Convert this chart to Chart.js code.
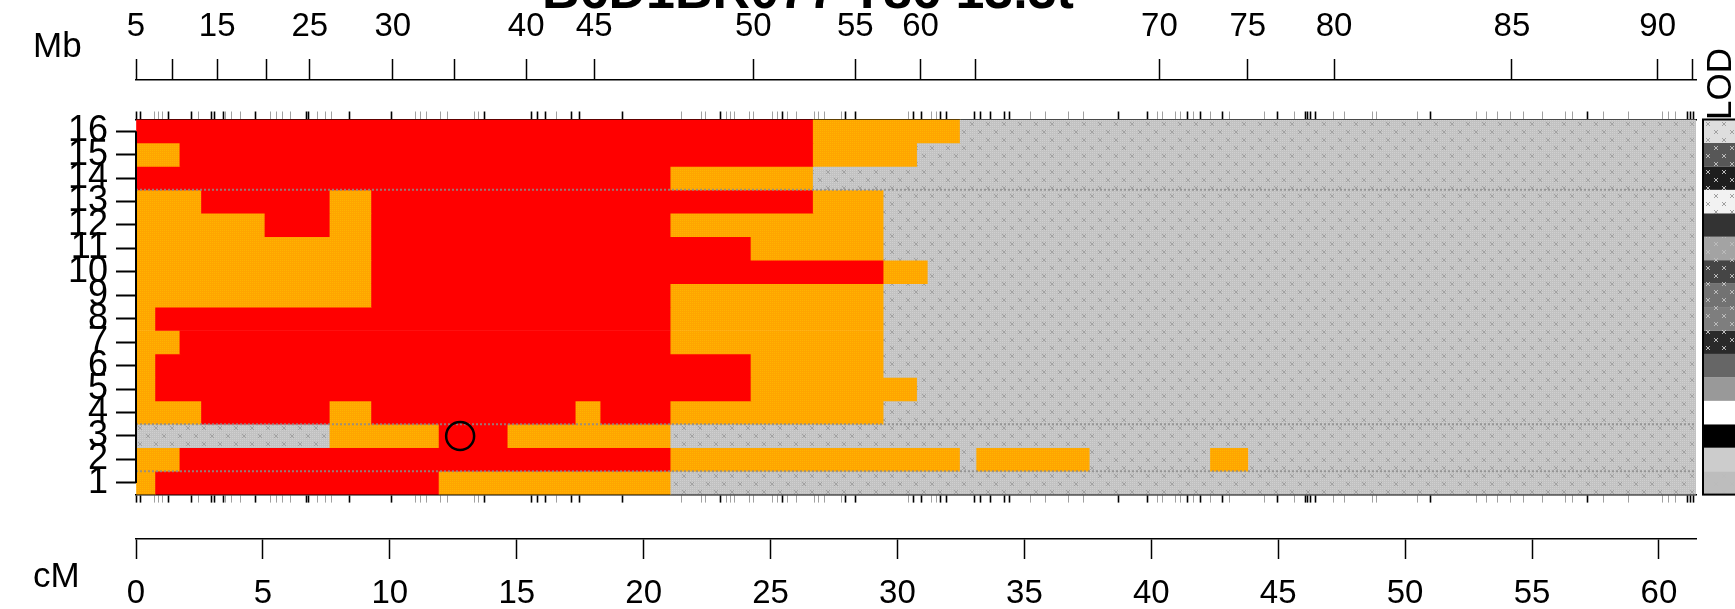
<!DOCTYPE html>
<html>
<head>
<meta charset="utf-8">
<script src="https://cdn.jsdelivr.net/npm/chart.js@4.4.1/dist/chart.umd.min.js"></script>
<style>
  html, body { margin: 0; padding: 0; background: #fff; }
  #wrap { width: 1735px; height: 609px; }
</style>
</head>
<body>
<div id="wrap"><canvas id="haplo" width="1735" height="609"></canvas></div>
<script>
// genetic map length (cM) and row ids
const XMAX = 61.46;
const rowNumbers = [1, 2, 3, 4, 5, 6, 7, 8, 9, 10, 11, 12, 13, 14, 15, 16];

// each row: [call, end cM]; a segment starts where the previous one ended
// R = red call, O = orange call, G = no call
const row1 = [['O', 0.77], ['R', 11.94], ['O', 21.07], ['G', XMAX]];
const row2 = [['O', 1.73], ['R', 21.07], ['O', 32.47], ['G', 33.12], ['O', 37.58], ['G', 42.33], ['O', 43.83], ['G', XMAX]];
const row3 = [['G', 7.64], ['O', 11.94], ['R', 14.65], ['O', 21.07], ['G', XMAX]];
const row4 = [['O', 2.58], ['R', 7.64], ['O', 9.28], ['R', 17.33], ['O', 18.31], ['R', 21.07], ['O', 29.46], ['G', XMAX]];
const row5 = [['O', 0.77], ['R', 24.23], ['O', 30.78], ['G', XMAX]];
const row6 = [['O', 0.77], ['R', 24.23], ['O', 29.46], ['G', XMAX]];
const row7 = [['O', 1.73], ['R', 21.07], ['O', 29.46], ['G', XMAX]];
const row8 = [['O', 0.77], ['R', 21.07], ['O', 29.46], ['G', XMAX]];
const row9 = [['O', 9.28], ['R', 21.07], ['O', 29.46], ['G', XMAX]];
const row10 = [['O', 9.28], ['R', 29.46], ['O', 31.2], ['G', XMAX]];
const row11 = [['O', 9.28], ['R', 24.23], ['O', 29.46], ['G', XMAX]];
const row12 = [['O', 5.08], ['R', 7.64], ['O', 9.28], ['R', 21.07], ['O', 29.46], ['G', XMAX]];
const row13 = [['O', 2.58], ['R', 7.64], ['O', 9.28], ['R', 26.68], ['O', 29.46], ['G', XMAX]];
const row14 = [['R', 21.07], ['O', 26.68], ['G', XMAX]];
const row15 = [['O', 1.73], ['R', 26.68], ['O', 30.78], ['G', XMAX]];
const row16 = [['R', 26.68], ['O', 32.47], ['G', XMAX]];
const allRows = [row1, row2, row3, row4, row5, row6, row7, row8, row9, row10, row11, row12, row13, row14, row15, row16];

// group separators (between rows) and the peak marker
const groupBreaks = [1.5, 3.5, 13.5];
const peakCm = 12.77;
const peakRow = 3;

// bottom axis (cM)
const cmTicks = [0, 5, 10, 15, 20, 25, 30, 35, 40, 45, 50, 55, 60];

// top axis: physical positions placed on the cM scale
const mbTickCm = [0, 1.42, 3.20, 5.15, 6.85, 10.12, 12.54, 15.37, 18.05, 24.32, 28.34, 30.91, 33.07, 40.32, 43.80, 47.20, 54.21, 59.95, 61.34];
const mbLabels = ['5', '', '15', '', '25', '30', '', '40', '45', '50', '55', '60', '', '70', '75', '80', '85', '90', ''];

// marker rug (cM): typed markers and the rest
const markersTyped = [0.02, 0.17, 1.30, 2.20, 2.99, 3.11, 3.43, 4.69, 6.70, 6.81, 8.43, 10.05, 13.72, 15.57, 15.81, 16.12, 17.14, 17.46, 19.15, 23.02, 25.46, 27.94, 28.33, 30.62, 30.94, 31.69, 31.92, 33.03, 33.26, 33.66, 34.21, 34.41, 38.70, 39.84, 41.42, 41.93, 42.80, 44.97, 46.08, 46.15, 46.27, 46.47, 51.00, 57.19, 61.13, 61.25, 61.37];
const markersOther = [0.74, 0.90, 1.06, 2.48, 3.54, 3.78, 4.10, 5.28, 5.52, 5.79, 6.07, 7.17, 7.45, 7.72, 11.00, 11.20, 11.43, 11.98, 12.26, 13.32, 13.48, 16.55, 21.48, 22.27, 22.42, 23.25, 23.41, 23.57, 24.16, 24.32, 25.07, 25.26, 25.66, 26.01, 26.72, 26.88, 27.11, 27.78, 30.43, 31.33, 31.53, 35.24, 35.83, 36.73, 37.32, 40.24, 40.44, 40.95, 41.15, 41.67, 42.33, 43.08, 44.46, 45.64, 47.18, 47.61, 48.71, 48.87, 50.49, 52.82, 53.21, 53.65, 54.16, 54.67, 55.42, 56.32, 56.60, 57.82, 58.81, 60.15, 60.38, 60.66];

// LOD strip shades, top row (16) to bottom row (1)
const lodShades = ['#dedede', '#575757', '#1e1e1e', '#f2f2f2', '#333333', '#a3a3a3', '#454545', '#727272', '#7e7e7e', '#2a2a2a', '#666666', '#999999', '#ffffff', '#000000', '#cccccc', '#bdbdbd'];
const lodHatched = [1, 1, 1, 1, 0, 1, 1, 1, 1, 1, 0, 0, 0, 0, 0, 1];

const FONT = "'Liberation Sans', Arial, sans-serif";

function stipple(base, dot, cross) {
  const c = document.createElement('canvas');
  c.width = 16; c.height = 16;
  const g = c.getContext('2d');
  g.fillStyle = base;
  g.fillRect(0, 0, 16, 16);
  g.fillStyle = dot;
  for (let y = 0; y < 16; y += 2) {
    for (let x = 0; x < 16; x += 2) g.fillRect(x, y, 1, 1);
  }
  if (cross) {
    g.strokeStyle = cross;
    g.lineWidth = 1;
    g.beginPath();
    [[2, 2], [10, 10]].forEach(([cx, cy]) => {
      g.moveTo(cx, cy); g.lineTo(cx + 4, cy + 4);
      g.moveTo(cx + 4, cy); g.lineTo(cx, cy + 4);
    });
    g.stroke();
  }
  return g.createPattern(c, 'repeat');
}

const fills = {
  R: '#ff0000',
  O: stipple('#ffa500', '#ffb400', null),
  G: stipple('#c2c2c2', '#d0d0d0', '#a2a2a2')
};

const segData = [];
const segColors = [];
allRows.forEach((segs, i) => {
  let start = 0;
  segs.forEach(([call, end]) => {
    segData.push({ y: rowNumbers[i], x: [start, end] });
    segColors.push(fills[call]);
    start = end;
  });
});

const rugTicks = markersOther.map(v => ({ value: v, typed: false }))
  .concat(markersTyped.map(v => ({ value: v, typed: true })));

const separatorSets = groupBreaks.map(b => ({
  type: 'line',
  data: [{ x: 0, y: b }, { x: XMAX, y: b }],
  borderColor: 'rgba(140,140,140,0.85)',
  borderWidth: 2,
  borderDash: [2, 2],
  pointRadius: 0,
  order: 1,
  xAxisID: 'x',
  yAxisID: 'y'
}));

// scales keep their boxes exactly; no extra room for label overhang
function noOverhang(s) {
  s.paddingTop = 0; s.paddingBottom = 0;
  s.paddingLeft = 0; s.paddingRight = 0;
}

const decor = {
  id: 'decor',
  afterDraw(chart) {
    const { ctx, chartArea, scales } = chart;
    const y = scales.y;
    ctx.save();

    // row axis line, first to last tick
    ctx.strokeStyle = '#000';
    ctx.lineWidth = 2;
    ctx.beginPath();
    ctx.moveTo(chartArea.left, y.getPixelForValue(16));
    ctx.lineTo(chartArea.left, y.getPixelForValue(1));
    ctx.stroke();

    // LOD strip
    const x0 = chartArea.right + 7;
    rowNumbers.forEach(r => {
      const k = 16 - r;
      const top = y.getPixelForValue(r + 0.5);
      const bot = y.getPixelForValue(r - 0.5);
      ctx.fillStyle = lodHatched[k] ? stipple(lodShades[k], lodShades[k], k === 0 || k === 3 ? '#a0a0a0' : '#bbbbbb') : lodShades[k];
      ctx.fillRect(x0, top, 60, bot - top);
    });
    ctx.strokeStyle = '#000';
    ctx.lineWidth = 2;
    ctx.strokeRect(x0, chartArea.top, 60, chartArea.bottom - chartArea.top);

    ctx.fillStyle = '#000';
    ctx.font = '35px ' + FONT;
    ctx.textBaseline = 'middle';
    ctx.textAlign = 'left';
    ctx.fillText('Mb', 33, 47);
    ctx.fillText('cM', 33, 577);

    ctx.save();
    ctx.translate(1721, 84);
    ctx.rotate(-Math.PI / 2);
    ctx.textAlign = 'center';
    ctx.fillText('LOD', 0, 0);
    ctx.restore();

    // title, mostly above the top edge
    ctx.font = 'bold 52px ' + FONT;
    ctx.textAlign = 'center';
    ctx.textBaseline = 'alphabetic';
    ctx.fillText('B6D1BR077 T86 13.3t', 808, 8);
    ctx.restore();
  }
};

const tickFont = { family: FONT, size: 33 };
const rowFont = { family: FONT, size: 36 };

new Chart(document.getElementById('haplo'), {
  data: {
    datasets: [
      {
        type: 'scatter',
        data: [{ x: peakCm, y: peakRow }],
        pointRadius: 14,
        pointBorderWidth: 2.5,
        pointBorderColor: '#000',
        pointBackgroundColor: 'rgba(0,0,0,0)',
        order: 0,
        xAxisID: 'x',
        yAxisID: 'y'
      },
      ...separatorSets,
      {
        type: 'bar',
        indexAxis: 'y',
        data: segData,
        backgroundColor: segColors,
        borderWidth: 0,
        barPercentage: 1,
        categoryPercentage: 1,
        grouped: false,
        order: 2,
        xAxisID: 'x',
        yAxisID: 'y'
      }
    ]
  },
  options: {
    responsive: false,
    animation: false,
    layout: { padding: { left: 0, right: 39, top: 0, bottom: 0 } },
    plugins: { legend: { display: false }, tooltip: { enabled: false } },
    scales: {
      x: {
        type: 'linear', position: 'bottom', min: 0, max: XMAX, weight: 1, offset: false,
        afterBuildTicks: s => { s.ticks = cmTicks.map(v => ({ value: v })); },
        afterFit: s => { s.height = 70; noOverhang(s); },
        ticks: { autoSkip: false, maxRotation: 0, padding: 15, color: '#000', font: tickFont, callback: v => String(v) },
        grid: { drawOnChartArea: false, offset: false, tickLength: 20, tickColor: '#000', tickWidth: 1.5 },
        border: { color: '#000', width: 1.5 }
      },
      rugB: {
        type: 'linear', position: 'bottom', min: 0, max: XMAX, weight: 0, offset: false,
        afterBuildTicks: s => { s.ticks = rugTicks.map(t => ({ ...t })); },
        afterFit: s => { s.height = 44.4; noOverhang(s); },
        ticks: { display: false, autoSkip: false },
        grid: {
          drawOnChartArea: false, offset: false, tickLength: 8,
          tickColor: c => (c.tick && c.tick.typed ? '#000' : '#a0a0a0'),
          tickWidth: c => (c.tick && c.tick.typed ? 1.6 : 1)
        },
        border: { color: '#000', width: 1.5 }
      },
      rugT: {
        type: 'linear', position: 'top', min: 0, max: XMAX, weight: 0, offset: false,
        afterBuildTicks: s => { s.ticks = rugTicks.map(t => ({ ...t })); },
        afterFit: s => { s.height = 39.5; noOverhang(s); },
        ticks: { display: false, autoSkip: false },
        grid: {
          drawOnChartArea: false, offset: false, tickLength: 8,
          tickColor: c => (c.tick && c.tick.typed ? '#000' : '#a0a0a0'),
          tickWidth: c => (c.tick && c.tick.typed ? 1.6 : 1)
        },
        border: { color: '#000', width: 1.5 }
      },
      mb: {
        type: 'linear', position: 'top', min: 0, max: XMAX, weight: 1, offset: false,
        afterBuildTicks: s => { s.ticks = mbTickCm.map(v => ({ value: v })); },
        afterFit: s => { s.height = 80; noOverhang(s); },
        ticks: { autoSkip: false, maxRotation: 0, padding: 12, color: '#000', font: tickFont, callback: (v, i) => mbLabels[i] },
        grid: { drawOnChartArea: false, offset: false, tickLength: 21, tickColor: '#000', tickWidth: 1.5 },
        border: { color: '#000', width: 1.5 }
      },
      y: {
        type: 'linear', position: 'left', min: 0.5, max: 16.5, offset: false,
        afterBuildTicks: s => { s.ticks = rowNumbers.map(v => ({ value: v })); },
        afterFit: s => { s.width = 136; noOverhang(s); },
        ticks: { autoSkip: false, padding: 8, color: '#000', font: rowFont, callback: v => String(v) },
        grid: { drawOnChartArea: false, offset: false, tickLength: 20, tickColor: '#000', tickWidth: 2 },
        border: { display: false }
      }
    }
  },
  plugins: [decor]
});
</script>
</body>
</html>
